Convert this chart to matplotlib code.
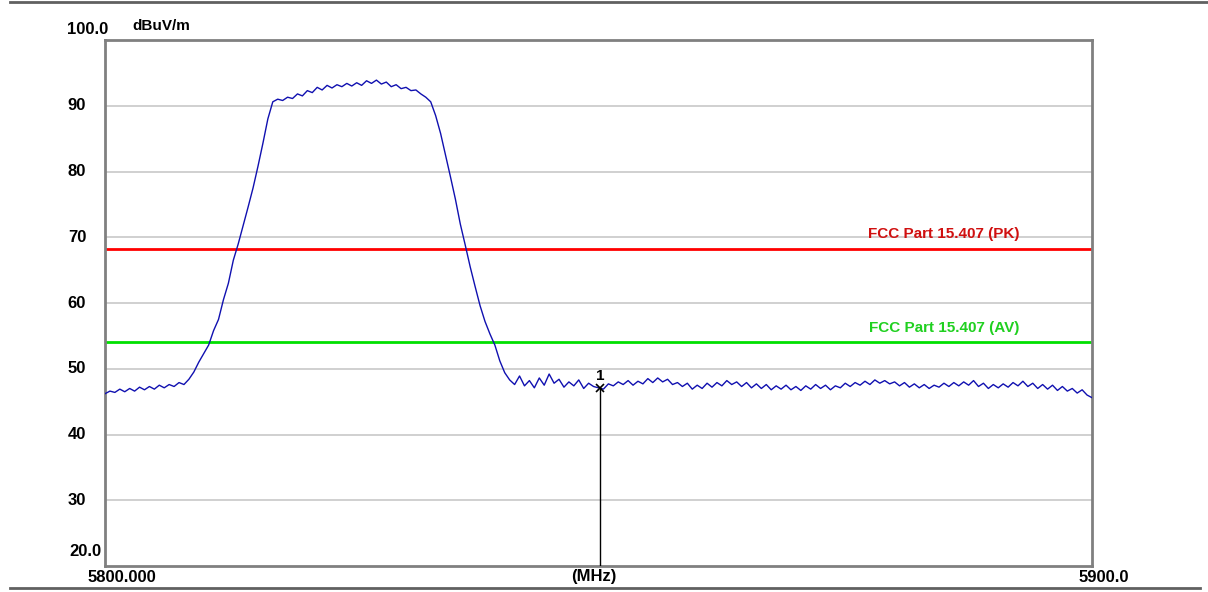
import numpy as np
import matplotlib
matplotlib.use('Agg')
import matplotlib.pyplot as plt

# sweep 5800 - 5900 MHz, 0.5 MHz step, levels (dBuV/m)
level = [
    46.2, 46.6, 46.4, 46.9, 46.5, 47.0, 46.6, 47.2, 46.8, 47.3,   # 5800 - 5804.5
    46.9, 47.5, 47.1, 47.6, 47.3, 47.9, 47.6, 48.4, 49.5, 51.0,   # 5805 - 5809.5
    52.3, 53.6, 55.8, 57.5, 60.5, 63.0, 66.5, 69.0, 71.8, 74.6,   # 5810 - 5814.5
    77.5, 80.8, 84.3, 88.0, 90.6, 91.0, 90.8, 91.3, 91.1, 91.8,   # 5815 - 5819.5
    91.5, 92.3, 92.0, 92.8, 92.4, 93.1, 92.7, 93.2, 92.9, 93.4,   # 5820 - 5824.5
    93.0, 93.5, 93.1, 93.8, 93.4, 93.9, 93.3, 93.6, 92.9, 93.2,   # 5825 - 5829.5
    92.6, 92.8, 92.3, 92.4, 91.8, 91.3, 90.6, 88.5, 85.8, 82.5,   # 5830 - 5834.5
    79.2, 75.8, 72.0, 68.8, 65.5, 62.5, 59.6, 57.2, 55.3, 53.6,   # 5835 - 5839.5
    51.2, 49.4, 48.3, 47.6, 48.9, 47.4, 48.2, 47.1, 48.6, 47.5,   # 5840 - 5844.5
    49.2, 47.8, 48.4, 47.2, 48.0, 47.4, 48.3, 47.0, 47.8, 47.3,   # 5845 - 5849.5
    47.1, 46.9, 47.7, 47.4, 48.0, 47.6, 48.2, 47.5, 48.1, 47.7,   # 5850 - 5854.5
    48.5, 47.9, 48.6, 48.0, 48.4, 47.6, 47.9, 47.3, 47.8, 46.9,   # 5855 - 5859.5
    47.5, 47.0, 47.8, 47.2, 47.9, 47.4, 48.2, 47.6, 48.0, 47.3,   # 5860 - 5864.5
    47.9, 47.1, 47.7, 47.0, 47.6, 46.8, 47.4, 46.9, 47.5, 46.8,   # 5865 - 5869.5
    47.3, 46.7, 47.4, 46.9, 47.6, 47.0, 47.5, 46.8, 47.4, 47.1,   # 5870 - 5874.5
    47.8, 47.3, 47.9, 47.5, 48.1, 47.6, 48.3, 47.8, 48.2, 47.7,   # 5875 - 5879.5
    48.0, 47.4, 47.9, 47.2, 47.7, 47.1, 47.6, 47.0, 47.5, 47.2,   # 5880 - 5884.5
    47.8, 47.3, 47.9, 47.4, 48.0, 47.5, 48.2, 47.3, 47.8, 47.0,   # 5885 - 5889.5
    47.6, 47.1, 47.7, 47.2, 47.9, 47.4, 48.1, 47.3, 47.8, 47.0,   # 5890 - 5894.5
    47.6, 46.9, 47.5, 46.7, 47.3, 46.6, 47.0, 46.3, 46.8, 46.0,   # 5895 - 5899.5
    45.6,                                                         # 5900
]
freq = np.linspace(5800, 5900, len(level))

pk_limit = 68.2
av_limit = 54.0
marker_f = 5850.15
marker_lvl = 47.1

W, H = 1208, 592
fig = plt.figure(figsize=(W / 100, H / 100), dpi=100)
ax = fig.add_axes([105 / W, 1 - 566 / H, (1092 - 105) / W, (566 - 40) / H])

for g in range(30, 100, 10):
    ax.axhline(g, color='#c8c8c8', lw=1.2, zorder=0)

ax.axhline(pk_limit, color='#ff0000', lw=2, zorder=2)
ax.axhline(av_limit, color='#00e000', lw=2, zorder=2)
ax.plot(freq, level, color='#1010b0', lw=1, zorder=3)

# marker 1
ax.plot([marker_f, marker_f], [20, marker_lvl], color='black', lw=1, zorder=4)
ax.plot(marker_f, marker_lvl, marker='x', color='black', ms=6, mew=1.2, zorder=5)
ax.text(marker_f, marker_lvl + 0.8, '1', ha='center', va='bottom',
        fontsize=11, fontweight='bold', family='Liberation Sans')

fs = dict(fontsize=11, fontweight='bold', family='Liberation Sans')
ax.text(5885, pk_limit + 1.2, 'FCC Part 15.407 (PK)', color='#d01010',
        ha='center', va='bottom', **fs)
ax.text(5885, av_limit + 1.2, 'FCC Part 15.407 (AV)', color='#20d020',
        ha='center', va='bottom', **fs)

ax.set_xlim(5800, 5900)
ax.set_ylim(20, 100)
ax.set_xticks([])
ax.set_yticks([])
for s in ax.spines.values():
    s.set_color('#808080')
    s.set_linewidth(2)

# y tick labels
for v in range(30, 100, 10):
    ax.text(5800 - 1.9, v, str(v), ha='right', va='center', fontsize=12,
            fontweight='bold', family='Liberation Sans')

fl = dict(fontsize=12, fontweight='bold', family='Liberation Sans')
fig.text(108 / W, 1 - 29 / H, '100.0', ha='right', va='center', **fl)
fig.text(132 / W, 1 - 26 / H, 'dBuV/m', ha='left', va='center', **fs)
fig.text(101 / W, 1 - 551 / H, '20.0', ha='right', va='center', **fl)
fig.text(88 / W, 1 - 577 / H, '5800.000', ha='left', va='center', **fl)
fig.text(594 / W, 1 - 577 / H, '(MHz)', ha='center', va='center', **fl)
fig.text(1104 / W, 1 - 577 / H, '5900.0', ha='center', va='center', **fl)

# frame lines at top and bottom of the figure
fig.add_artist(plt.Line2D([10 / W, 1], [1 - 2 / H, 1 - 2 / H], color='#606060', lw=2))
fig.add_artist(plt.Line2D([10 / W, 1200 / W], [1 - 588 / H, 1 - 588 / H], color='#606060', lw=2))

fig.savefig('out.png', dpi=100)
